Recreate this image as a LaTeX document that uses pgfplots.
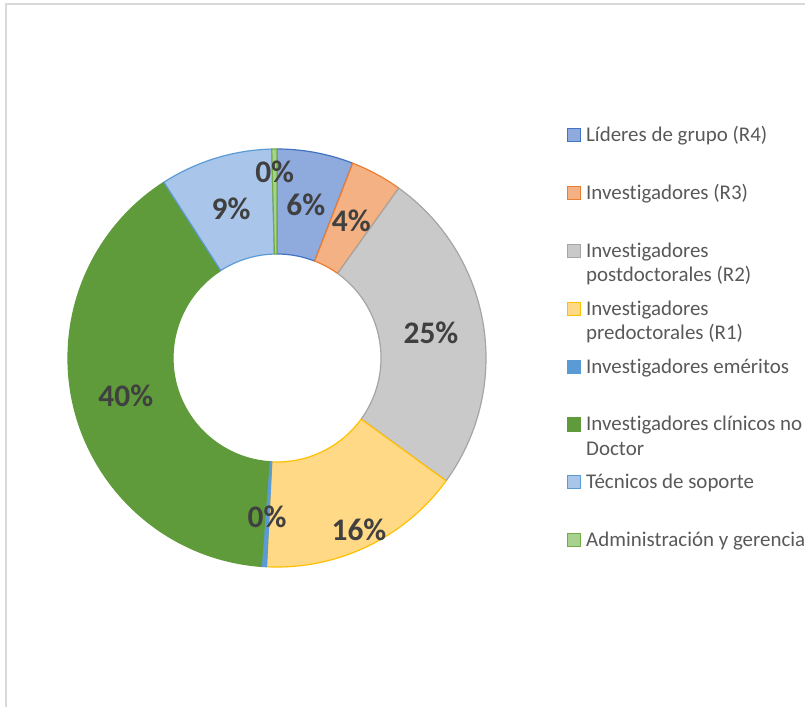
\documentclass[border=0pt]{standalone}
\usepackage{pgfplots}
\usepackage{pgfplotstable}
\pgfplotsset{compat=1.18}
\usepackage{fontspec}
\setmainfont{Carlito}[Ligatures=NoCommon]

% slice colours (fill / border)
\definecolor{fill0}{HTML}{8FAADC}\definecolor{line0}{HTML}{4472C4}
\definecolor{fill1}{HTML}{F4B183}\definecolor{line1}{HTML}{ED7D31}
\definecolor{fill2}{HTML}{C9C9C9}\definecolor{line2}{HTML}{A5A5A5}
\definecolor{fill3}{HTML}{FFD985}\definecolor{line3}{HTML}{FFC000}
\definecolor{fill4}{HTML}{5B9BD5}\definecolor{line4}{HTML}{5B9BD5}
\definecolor{fill5}{HTML}{609B3B}\definecolor{line5}{HTML}{609B3B}
\definecolor{fill6}{HTML}{A9C6EA}\definecolor{line6}{HTML}{5B9BD5}
\definecolor{fill7}{HTML}{A9D18E}\definecolor{line7}{HTML}{70AD47}
\definecolor{lblgray}{HTML}{404040}
\definecolor{leggray}{HTML}{595959}
\definecolor{framegray}{HTML}{D9D9D9}

% share of each group (percent) and radius of its data label (px)
\pgfplotstableread{
value lr
5.9   156
4.0   156
25.1  156
15.8  190
0.4   159
39.7  156
8.7   156
0.4   186
}\slices

\begin{document}
\begin{tikzpicture}[
  lbl/.style={font=\fontsize{31.5}{31.5}\selectfont\bfseries, text=lblgray, inner sep=0pt},
  leg/.style={font=\fontsize{21}{24.5}\selectfont, text=leggray, inner sep=0pt, anchor=base west},
]
% cumulative angles, clockwise from 12 o'clock
\gdef\cum{0}%
\foreach \i in {0,...,7}{%
  \pgfplotstablegetelem{\i}{value}\of\slices\let\v\pgfplotsretval
  \pgfplotstablegetelem{\i}{lr}\of\slices\let\lr\pgfplotsretval
  \pgfmathsetmacro\a{90-3.6*\cum}%
  \pgfmathsetmacro\b{90-3.6*(\cum+\v)}%
  \pgfmathsetmacro\m{(\a+\b)/2}%
  \pgfmathsetmacro\nc{\cum+\v}%
  \pgfmathtruncatemacro\p{round(\v)}%
  \expandafter\xdef\csname sa\i\endcsname{\a}%
  \expandafter\xdef\csname sb\i\endcsname{\b}%
  \expandafter\xdef\csname sm\i\endcsname{\m}%
  \expandafter\xdef\csname sr\i\endcsname{\lr}%
  \expandafter\xdef\csname sp\i\endcsname{\p}%
  \xdef\cum{\nc}%
}%
\begin{axis}[
  x=1bp, y=1bp,
  xmin=0, xmax=805, ymin=0, ymax=707,
  hide axis, clip=false,
]
\coordinate (BL) at (axis cs:0,0);
\coordinate (TR) at (axis cs:805,707);
\fill[white] (axis cs:0,0) rectangle (axis cs:805,707);
\draw[framegray, line width=1.5bp] (axis cs:6,0) -- (axis cs:6,703) -- (axis cs:805,703);

% donut slices
\pgfplotsinvokeforeach{0,...,7}{%
  \edef\temp{\noexpand\filldraw[fill=fill#1, draw=line#1, line width=1.2bp, line join=round]
    ([shift={(\csname sa#1\endcsname:104bp)}]axis cs:277,349)
    -- ([shift={(\csname sa#1\endcsname:209bp)}]axis cs:277,349)
    arc[start angle=\csname sa#1\endcsname, end angle=\csname sb#1\endcsname, radius=209bp]
    -- ([shift={(\csname sb#1\endcsname:104bp)}]axis cs:277,349)
    arc[start angle=\csname sb#1\endcsname, end angle=\csname sa#1\endcsname, radius=104bp]
    -- cycle;}%
  \temp
}
% data labels
\pgfplotsinvokeforeach{0,...,7}{%
  \edef\temp{\noexpand\node[lbl] at ([shift={(\csname sm#1\endcsname:\csname sr#1\endcsname bp)}]axis cs:277,349) {\csname sp#1\endcsname\%};}%
  \temp
}

% legend
\pgfplotsinvokeforeach{0,...,7}{%
  \edef\temp{\noexpand\filldraw[fill=fill#1, draw=line#1, line width=1.2bp]
    (axis cs:567.5,{565.3-57.86*#1}) rectangle (axis cs:580.5,{578.3-57.86*#1});}%
  \temp
}
\node[leg] at (axis cs:586,565.3) {\parbox[t]{260bp}{Líderes de grupo (R4)}};
\node[leg] at (axis cs:586,507.4) {\parbox[t]{260bp}{Investigadores (R3)}};
\node[leg] at (axis cs:586,449.6) {\parbox[t]{260bp}{Investigadores\\postdoctorales (R2)}};
\node[leg] at (axis cs:586,391.7) {\parbox[t]{260bp}{Investigadores\\predoctorales (R1)}};
\node[leg] at (axis cs:586,333.9) {\parbox[t]{260bp}{Investigadores eméritos}};
\node[leg] at (axis cs:586,276.0) {\parbox[t]{260bp}{Investigadores clínicos no\\Doctor}};
\node[leg] at (axis cs:586,218.1) {\parbox[t]{260bp}{Técnicos de soporte}};
\node[leg] at (axis cs:586,160.3) {\parbox[t]{260bp}{Administración y gerencia}};
\end{axis}
\pgfresetboundingbox
\path[use as bounding box] (BL) rectangle (TR);
\end{tikzpicture}
\end{document}
